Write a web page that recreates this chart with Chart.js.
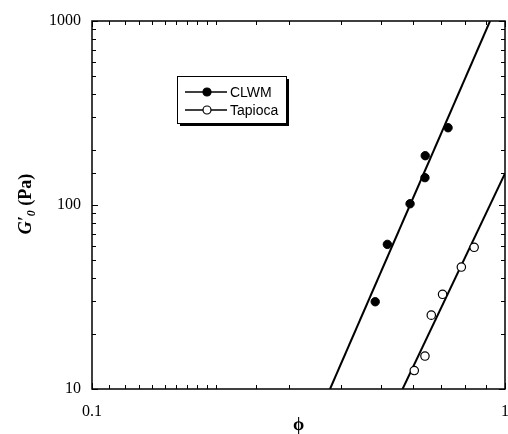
<!DOCTYPE html>
<html>
<head>
<meta charset="utf-8">
<script src="https://cdn.jsdelivr.net/npm/chart.js@4.4.1/dist/chart.umd.min.js"></script>
<style>
  html, body { margin: 0; padding: 0; background: #fff; }
  #wrap { width: 508px; height: 434px; }
</style>
</head>
<body>
<div id="wrap"><canvas id="c" width="508" height="434"></canvas></div>
<script>
// Storage modulus G'0 versus volume fraction phi for two starches
const seriesNames = ['CLWM', 'Tapioca'];
const clwmPhi = [0.485, 0.519, 0.589, 0.640, 0.641, 0.728];
const clwmG   = [29.8, 61.1, 101.6, 140.8, 185.3, 263];
const tapPhi  = [0.603, 0.640, 0.663, 0.706, 0.784, 0.842];
const tapG    = [12.6, 15.1, 25.2, 32.7, 46.0, 58.9];

// Power-law fit lines (end points)
const clwmFitPhi = [0.377, 0.920];
const clwmFitG   = [10, 1000];
const tapFitPhi  = [0.565, 1.0];
const tapFitG    = [10, 148.6];

// Labelled decades on each axis
const xTickLabels = [0.1, 1];
const yTickLabels = [10, 100, 1000];

const pts = (xs, ys) => xs.map((x, i) => ({ x: x, y: ys[i] }));
const isDecade = v => Math.abs(Math.log10(v) - Math.round(Math.log10(v))) < 1e-6;
const labelFor = (list, v) => {
  const hit = list.find(t => Math.abs(Math.log10(t) - Math.log10(v)) < 1e-6);
  return hit === undefined ? '' : String(hit);
};

const SERIF = '"Liberation Serif", "Times New Roman", serif';
const SANS = '"Liberation Sans", Arial, sans-serif';
Chart.defaults.font.family = SERIF;
Chart.defaults.color = '#000';

// Frame, inward ticks on all four sides, legend box and y-axis title
const decorations = {
  id: 'decorations',
  afterDraw(chart) {
    const ctx = chart.ctx;
    const a = chart.chartArea;
    const xs = chart.scales.x, ys = chart.scales.y;
    ctx.save();
    ctx.strokeStyle = '#000';

    // inward tick marks
    ctx.lineWidth = 1;
    xs.ticks.forEach(t => {
      const px = Math.round(xs.getPixelForValue(t.value)) + 0.5;
      const len = isDecade(t.value) ? 6 : 4;
      ctx.beginPath();
      ctx.moveTo(px, a.bottom); ctx.lineTo(px, a.bottom - len);
      ctx.moveTo(px, a.top); ctx.lineTo(px, a.top + len);
      ctx.stroke();
    });
    ys.ticks.forEach(t => {
      const py = Math.round(ys.getPixelForValue(t.value)) + 0.5;
      const len = isDecade(t.value) ? 6 : 4;
      ctx.beginPath();
      ctx.moveTo(a.left, py); ctx.lineTo(a.left + len, py);
      ctx.moveTo(a.right, py); ctx.lineTo(a.right - len, py);
      ctx.stroke();
    });

    // frame
    ctx.lineWidth = 1.5;
    ctx.strokeRect(a.left, a.top, a.right - a.left, a.bottom - a.top);

    // legend
    const bx = 177, by = 76, bw = 109, bh = 47;
    ctx.fillStyle = '#000';
    ctx.fillRect(bx + 3, by + 3, bw, bh);
    ctx.fillStyle = '#fff';
    ctx.fillRect(bx, by, bw, bh);
    ctx.lineWidth = 1;
    ctx.strokeRect(bx + 0.5, by + 0.5, bw, bh);

    const rows = [
      { label: chart.data.datasets[0].label, fill: '#000', y: 92 },
      { label: chart.data.datasets[1].label, fill: '#fff', y: 110 }
    ];
    rows.forEach(r => {
      ctx.lineWidth = 1.5;
      ctx.beginPath();
      ctx.moveTo(185, r.y); ctx.lineTo(227, r.y);
      ctx.stroke();
      ctx.beginPath();
      ctx.arc(207, r.y, 4, 0, Math.PI * 2);
      ctx.fillStyle = r.fill;
      ctx.fill();
      ctx.lineWidth = 1.2;
      ctx.stroke();
      ctx.fillStyle = '#000';
      ctx.font = '14px ' + SANS;
      ctx.textAlign = 'left';
      ctx.textBaseline = 'middle';
      ctx.fillText(r.label, 230, r.y + 1);
    });

    // y-axis title: G'0 (Pa), rotated
    const fMain = 'italic bold 18px ' + SERIF;
    const fSub = 'italic bold 12px ' + SERIF;
    const fUnit = 'bold 18px ' + SERIF;
    ctx.font = fMain; const w1 = ctx.measureText('G\u2032').width;
    ctx.font = fSub; const w2 = ctx.measureText('0').width;
    ctx.font = fUnit; const w3 = ctx.measureText(' (Pa)').width;
    const total = w1 + w2 + w3;
    ctx.translate(31, 204);
    ctx.rotate(-Math.PI / 2);
    ctx.textBaseline = 'alphabetic';
    ctx.textAlign = 'left';
    let cx = -total / 2;
    ctx.font = fMain; ctx.fillText('G\u2032', cx, 0); cx += w1;
    ctx.font = fSub; ctx.fillText('0', cx, 4); cx += w2;
    ctx.font = fUnit; ctx.fillText(' (Pa)', cx, 0);
    ctx.restore();
  }
};

new Chart(document.getElementById('c'), {
  type: 'scatter',
  data: {
    datasets: [
      { label: seriesNames[0], data: pts(clwmPhi, clwmG), showLine: false,
        pointRadius: 4.2, pointBackgroundColor: '#000', pointBorderColor: '#000',
        pointBorderWidth: 1, order: 1 },
      { label: seriesNames[1], data: pts(tapPhi, tapG), showLine: false,
        pointRadius: 4.2, pointBackgroundColor: '#fff', pointBorderColor: '#000',
        pointBorderWidth: 1.2, order: 1 },
      { label: seriesNames[0] + ' fit', data: pts(clwmFitPhi, clwmFitG), showLine: true,
        pointRadius: 0, borderColor: '#000', borderWidth: 2, order: 2 },
      { label: seriesNames[1] + ' fit', data: pts(tapFitPhi, tapFitG), showLine: true,
        pointRadius: 0, borderColor: '#000', borderWidth: 2, order: 2 }
    ]
  },
  options: {
    responsive: false,
    animation: false,
    devicePixelRatio: 1,
    layout: { autoPadding: false, padding: { left: 0, right: 3, top: 21, bottom: 0 } },
    plugins: { legend: { display: false }, tooltip: { enabled: false } },
    scales: {
      x: {
        type: 'logarithmic', min: 0.1, max: 1, position: 'bottom',
        grid: { display: false, drawTicks: false }, border: { display: false },
        ticks: {
          autoSkip: false, maxRotation: 0, minRotation: 0, padding: 13,
          color: '#000', font: { family: SERIF, size: 16 },
          callback: v => labelFor(xTickLabels, v)
        },
        title: {
          display: true, text: '\u03D5', color: '#000',
          font: { family: SERIF, size: 18, weight: 'bold', lineHeight: 1 },
          padding: { top: 0, bottom: 0 }
        },
        afterFit: s => { s.height = 45; s.paddingLeft = 0; s.paddingRight = 0; }
      },
      y: {
        type: 'logarithmic', min: 10, max: 1000, position: 'left',
        grid: { display: false, drawTicks: false }, border: { display: false },
        ticks: {
          autoSkip: false, padding: 11,
          color: '#000', font: { family: SERIF, size: 16 },
          callback: v => labelFor(yTickLabels, v)
        },
        afterFit: s => { s.width = 92; s.paddingTop = 0; s.paddingBottom = 0; }
      }
    }
  },
  plugins: [decorations]
});
</script>
</body>
</html>
